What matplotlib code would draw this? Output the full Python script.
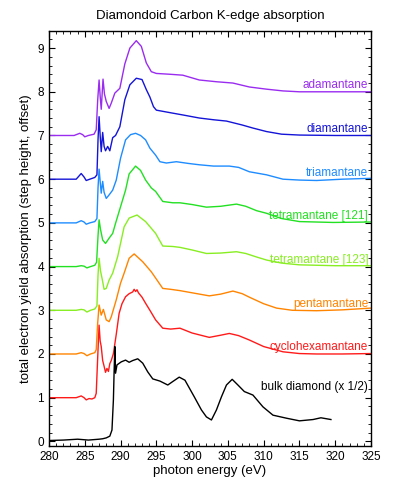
import numpy as np
import matplotlib
matplotlib.use("Agg")
import matplotlib.pyplot as plt
from matplotlib.ticker import MultipleLocator

plt.rcParams["font.family"] = ["Liberation Sans", "DejaVu Sans"]

# 读图得到的数据 (能量 eV, 相对各自偏移量的吸收值)
names = ["adamantane", "diamantane", "triamantane", "tetramantane [121]",
         "tetramantane [123]", "pentamantane", "cyclohexamantane",
         "bulk diamond (x 1/2)"]
offsets = [7, 6, 5, 4, 3, 2, 1, 0]
colors = ["#9a2cf0", "#1414d8", "#1e8cff", "#22e022", "#88ee22",
          "#ff8400", "#ff1a1a", "#000000"]

e_ada = [280, 283.5, 284.3, 284.7, 285.0, 285.5, 286.3, 286.6, 286.8, 287.0, 287.15,
         287.3, 287.55, 287.75, 288.0, 288.4, 288.7, 289.2, 289.9, 290.6, 291.3, 292.2,
         292.9, 293.6, 294.3, 295.0, 297.0, 298.7, 301.0, 303.4, 305.7, 308.0, 310.4,
         312.7, 315.0, 320, 325]
v_ada = [0, 0.0, 0.05, 0.02, -0.03, 0.0, 0.03, 0.13, 0.8, 1.27, 0.9, 0.6, 1.29, 0.95,
         0.78, 0.62, 0.74, 0.97, 1.08, 1.64, 2.0, 2.17, 2.04, 1.66, 1.46, 1.42, 1.40,
         1.38, 1.27, 1.23, 1.2, 1.11, 1.06, 1.02, 1.0, 1.0, 1.0]

e_dia = [280, 283.8, 284.5, 284.9, 285.2, 285.7, 286.4, 286.7, 286.85, 287.0, 287.15,
         287.3, 287.5, 287.7, 287.9, 288.2, 288.5, 288.9, 289.3, 289.9, 290.6, 291.3,
         292.2, 293.0, 293.6, 294.1, 294.6, 295.0, 297.0, 298.7, 301.0, 303.0, 304.8,
         307.0, 308.5, 310.4, 312.5, 315.0, 320, 325]
v_dia = [0, 0.0, 0.13, 0.05, -0.03, 0.0, 0.04, 0.1, 0.9, 1.43, 1.0, 0.63, 1.07, 0.75,
         0.65, 0.75, 0.65, 0.95, 1.0, 1.2, 1.82, 2.16, 2.31, 2.28, 2.05, 1.88, 1.66,
         1.58, 1.52, 1.47, 1.40, 1.36, 1.33, 1.24, 1.17, 1.09, 1.03, 1.01, 1.0, 1.0]

e_tri = [280, 283.8, 284.5, 284.9, 285.2, 285.7, 286.4, 286.7, 286.85, 287.0, 287.15,
         287.3, 287.5, 287.7, 288.0, 288.4, 288.9, 289.4, 290.0, 290.7, 291.4, 292.1,
         292.8, 293.5, 294.1, 294.9, 295.5, 296.4, 297.8, 299.5, 301.0, 303.0, 305.2,
         306.5, 308.0, 310.4, 312.7, 315.0, 317.4, 321, 325]
v_tri = [0, 0.0, 0.05, 0.02, -0.03, 0.0, 0.03, 0.1, 0.8, 1.23, 0.95, 0.68, 0.95, 0.7,
         0.56, 0.64, 0.75, 0.98, 1.48, 1.90, 2.02, 2.05, 2.0, 1.90, 1.71, 1.55, 1.40,
         1.37, 1.40, 1.36, 1.33, 1.30, 1.30, 1.27, 1.17, 1.10, 1.0, 0.98, 0.97, 1.0, 1.02]

e_t121 = [280, 283.8, 284.5, 284.9, 285.3, 285.8, 286.4, 286.65, 286.85, 287.0, 287.2,
          287.5, 287.9, 288.4, 288.9, 289.3, 290.0, 290.7, 291.2, 292.1, 292.8, 293.5,
          294.3, 294.9, 295.9, 297.3, 298.3, 300.0, 302.0, 304.0, 306.2, 307.5, 309.0,
          310.4, 312.5, 315.0, 319.7, 325]
v_t121 = [0, 0.0, 0.02, 0.01, -0.03, 0.0, 0.03, 0.1, 0.7, 1.07, 0.85, 0.61, 0.53, 0.65,
          0.76, 0.99, 1.37, 1.75, 2.12, 2.30, 2.2, 1.98, 1.8, 1.72, 1.49, 1.46, 1.46,
          1.42, 1.36, 1.38, 1.43, 1.38, 1.28, 1.22, 1.1, 1.03, 1.01, 1.02]

e_t123 = [280, 283.8, 284.5, 284.9, 285.3, 285.8, 286.4, 286.7, 286.85, 287.0, 287.2,
          287.45, 287.7, 288.0, 288.4, 288.9, 289.6, 290.5, 291.2, 292.3, 293.5, 294.9,
          295.9, 297.3, 298.3, 300.0, 302.0, 304.0, 306.2, 307.5, 309.0, 310.4, 312.5,
          315.0, 320, 325]
v_t123 = [0, 0.0, 0.02, 0.01, -0.04, 0.0, 0.03, 0.1, 0.8, 1.19, 0.9, 0.7, 0.48, 0.5,
          0.69, 0.85, 1.23, 1.91, 2.11, 2.18, 2.03, 1.76, 1.47, 1.46, 1.44, 1.38, 1.30,
          1.31, 1.34, 1.30, 1.22, 1.15, 1.08, 1.04, 1.02, 1.02]

e_pen = [280, 283.8, 284.5, 284.9, 285.3, 285.8, 286.4, 286.6, 286.8, 287.0, 287.3,
         287.6, 288.0, 288.4, 288.7, 289.4, 290.0, 290.5, 291.2, 291.9, 293.1, 294.3,
         295.9, 297.0, 298.3, 300.0, 302.4, 304.0, 305.7, 307.0, 308.0, 310.0, 311.8,
         314.0, 317.4, 321, 325]
v_pen = [0, 0.0, 0.03, 0.01, -0.04, 0.0, 0.03, 0.1, 0.7, 1.12, 0.89, 1.02, 0.78, 0.74,
         0.85, 1.24, 1.62, 1.85, 2.19, 2.29, 2.11, 1.88, 1.50, 1.48, 1.45, 1.40, 1.33,
         1.37, 1.44, 1.38, 1.30, 1.15, 1.05, 1.0, 0.99, 1.01, 1.05]

e_hex = [280, 283.8, 284.5, 284.9, 285.2, 285.6, 286.0, 286.4, 286.6, 286.8, 287.0,
         287.15, 287.3, 287.5, 287.7, 287.9, 288.1, 288.3, 288.5, 288.7, 289.0, 289.4,
         289.8, 290.2, 290.7, 291.2, 291.7, 291.9, 292.1, 292.3, 292.5, 293.0, 293.5,
         294.1, 294.9, 295.9, 297.0, 298.3, 300.0, 302.4, 304.0, 305.2, 306.5, 308.0,
         310.0, 312.7, 315, 317.4, 321, 325]
v_hex = [0, 0.0, 0.04, 0.0, -0.05, -0.02, -0.03, 0.0, 0.1, 0.9, 1.66, 1.3, 1.17, 0.85,
         0.72, 0.58, 0.67, 0.6, 0.78, 0.85, 1.01, 1.45, 1.93, 2.15, 2.31, 2.38, 2.42,
         2.48, 2.43, 2.47, 2.4, 2.3, 2.16, 2.0, 1.78, 1.59, 1.57, 1.59, 1.48, 1.38,
         1.43, 1.47, 1.42, 1.32, 1.17, 1.05, 1.01, 1.0, 1.0, 1.01]

e_bulk = [280, 282, 284, 285.5, 287, 287.5, 288.0, 288.5, 288.8, 289.0, 289.1, 289.2,
          289.3, 289.5, 290.1, 290.7, 291.2, 291.7, 292.4, 293.1, 293.8, 294.5, 295.5,
          296.6, 297.3, 298.2, 299.0, 300.3, 301.3, 302.0, 302.7, 303.4, 304.1, 304.8,
          305.6, 306.4, 307.3, 308.5, 309.9, 311.3, 313.2, 315.0, 316.9, 318.0, 319.4]
v_bulk = [0.02, 0.03, 0.05, 0.03, 0.05, 0.06, 0.08, 0.12, 0.26, 0.95, 1.6, 2.17, 1.56,
          1.75, 1.82, 1.86, 1.81, 1.85, 1.89, 1.79, 1.59, 1.43, 1.38, 1.29, 1.37, 1.47,
          1.40, 1.02, 0.72, 0.56, 0.49, 0.72, 1.02, 1.29, 1.42, 1.29, 1.14, 1.06, 0.79,
          0.60, 0.53, 0.47, 0.50, 0.54, 0.50]

energies = [e_ada, e_dia, e_tri, e_t121, e_t123, e_pen, e_hex, e_bulk]
values = [v_ada, v_dia, v_tri, v_t121, v_t123, v_pen, v_hex, v_bulk]
label_y = [8.08, 7.08, 6.08, 5.08, 4.08, 3.08, 2.08, 1.17]

fig = plt.figure(figsize=(4, 4.92), dpi=100)
ax = fig.add_axes([0.1225, 0.094, 0.805, 0.842])

for e, v, off, c, n, ly in zip(energies, values, offsets, colors, names, label_y):
    ax.plot(e, np.array(v) + off, color=c, lw=1.0, solid_joinstyle="round")
    ax.text(324.6, ly, n, color=c, fontsize=8.5, ha="right", va="baseline")

ax.set_xlim(280, 325)
ax.set_ylim(-0.1, 9.38)
ax.xaxis.set_major_locator(MultipleLocator(5))
ax.xaxis.set_minor_locator(MultipleLocator(1))
ax.yaxis.set_major_locator(MultipleLocator(1))
ax.yaxis.set_minor_locator(MultipleLocator(0.2))
ax.tick_params(which="both", direction="in", top=True, right=True, labelsize=8.5)
ax.tick_params(which="major", length=4)
ax.tick_params(which="minor", length=2)
for s in ax.spines.values():
    s.set_linewidth(1.0)

ax.set_xlabel("photon energy (eV)", fontsize=9.5, labelpad=2)
ax.set_ylabel("total electron yield absorption (step height, offset)", fontsize=9.5)
ax.set_title("Diamondoid Carbon K-edge absorption", fontsize=9.5, pad=9)

fig.savefig("out.png", dpi=100)
